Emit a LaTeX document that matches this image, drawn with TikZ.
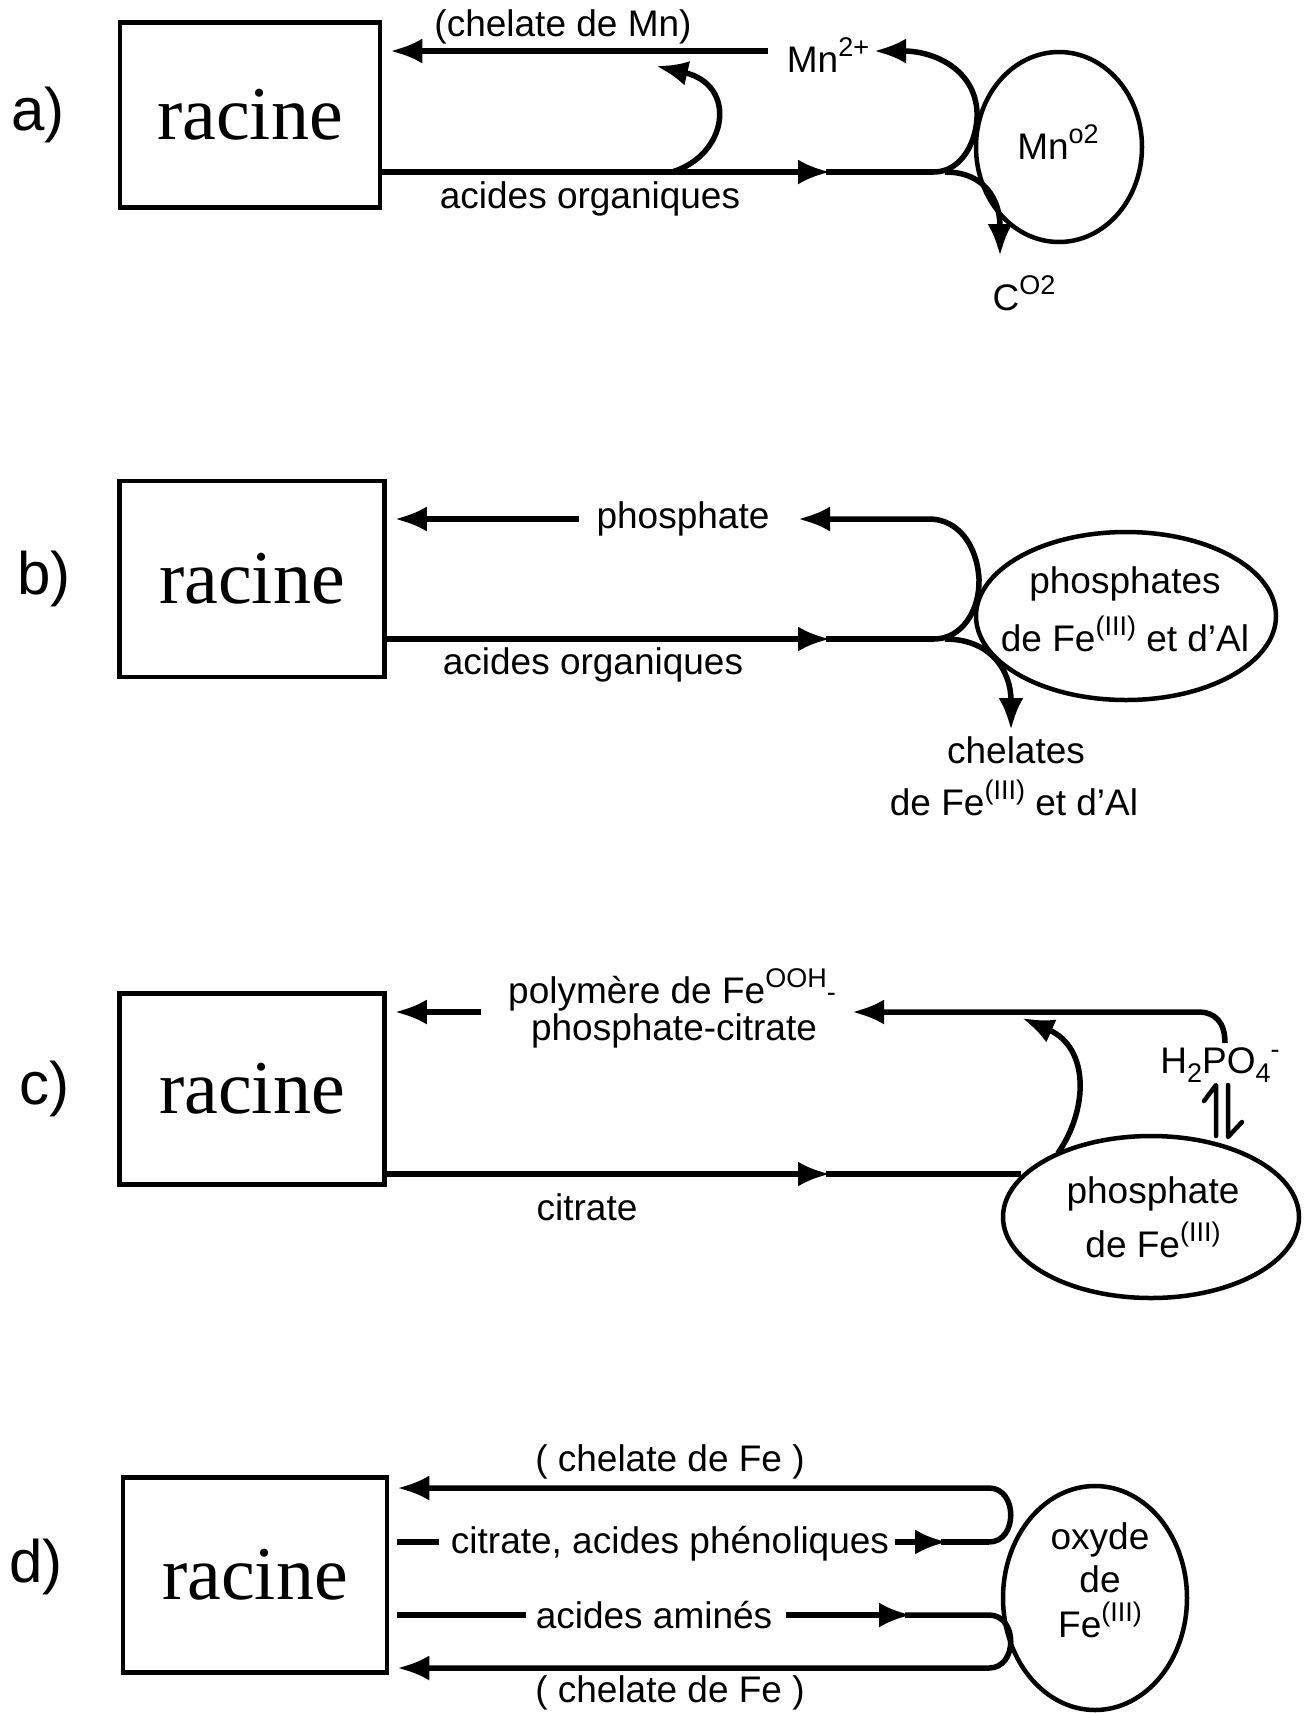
\documentclass[tikz,border=0pt]{standalone}
\usepackage{fontspec}
\setmainfont{Liberation Sans}
\newfontfamily\racinefont{Liberation Serif}
\usetikzlibrary{arrows.meta,shapes.geometric}
\newcommand\sups[1]{\raisebox{0.42em}{\fontsize{27}{27}\selectfont #1}}
\newcommand\subs[1]{\raisebox{-0.22em}{\fontsize{27}{27}\selectfont #1}}
\begin{document}
\begin{tikzpicture}[x=1pt,y=-1pt,
  every node/.style={inner sep=0pt, font=\fontsize{37}{44}\selectfont},
  panel/.style={font=\fontsize{60}{60}\selectfont},
  rootbox/.style={draw, line width=4.5pt, font=\racinefont\fontsize{76}{76}\selectfont},
  blob/.style={draw, ellipse, line width=4.5pt},
  conn/.style={line width=5.5pt},
  tip/.style={-{Latex[length=32pt,width=25pt]}}
]
\useasboundingbox (0,0) rectangle (1311,1713);

% ---------------- a) ----------------
\node[panel] (la) at (38,115) {a)};
\node[rootbox, minimum width=260pt, minimum height=185pt] (ra) at (250,115) {racine};
\node[blob, minimum width=166pt, minimum height=190pt] (mno2) at (1059,147) {};
\node (mnotxt) at (1058,142) {Mn\sups{o2}};
\node (mn2) at (828,55) {Mn\sups{2+}};
\node (chMn) at (563,27) {(chelate de Mn)};
\node (aoA) at (590,199) {acides organiques};
\node (co2) at (1024,293) {C\sups{O2}};
\coordinate (a1) at (768,51);
\coordinate (a2) at (934,172);
\coordinate (a3) at (874,51);
\coordinate (a4) at (672,172);
\coordinate (a5) at (656,66);
\coordinate (a6) at (945,172);
\coordinate (a7) at (1000,256);
\coordinate (am) at (830,172);
\draw[conn,tip] (a1) -- ([xshift=8pt]ra.east |- a1);
\draw[conn,tip] (ra.east |- a2) -- (am);
\draw[conn] ([xshift=-4pt]am) -- (a2);
\draw[conn,tip] (a2) .. controls (962,172) and (978,140) .. (977,112) .. controls (975,70) and (935,51) .. (a3);
\draw[conn,tip] (a4) .. controls (728,155) and (738,85) .. (a5);
\draw[conn,tip] (a6) .. controls (985,172) and (1000,200) .. (a7);

% ---------------- b) ----------------
\node[panel] (lb) at (44,579) {b)};
\node[rootbox, minimum width=265pt, minimum height=196pt] (rb) at (252,579) {racine};
\node[blob, minimum width=300pt, minimum height=168pt] (phfe) at (1126,616) {};
\node (phfe1) at (1125,584) {phosphates};
\node (phfe2) at (1125,634) {de Fe\sups{(III)} et d'Al};
\node (phos) at (683,519) {phosphate};
\node (aoB) at (593,665) {acides organiques};
\node (chel1) at (1016,750) {chelates};
\node (chel2) at (1014,798) {de Fe\sups{(III)} et d'Al};
\coordinate (b1) at (579,519);
\coordinate (b2) at (934,639);
\coordinate (b3) at (798,519);
\coordinate (bm) at (830,639);
\coordinate (b4) at (945,639);
\coordinate (b5) at (1011,730);
\draw[conn,tip] (b1) -- ([xshift=8pt]rb.east |- b1);
\draw[conn,tip] (rb.east |- b2) -- (bm);
\draw[conn] ([xshift=-4pt]bm) -- (b2);
\draw[conn,tip] (b2) .. controls (962,639) and (980,610) .. (979,579) .. controls (977,545) and (958,519) .. (929,519) -- (b3);
\draw[conn,tip] (b4) .. controls (990,639) and (1011,670) .. (b5);

% ---------------- c) ----------------
\node[panel] (lc) at (44,1089) {c)};
\node[rootbox, minimum width=265pt, minimum height=191pt] (rc) at (252,1089) {racine};
\node[blob, minimum width=296pt, minimum height=162pt] (phfe3) at (1151,1217) {};
\node (phc1) at (1153,1194) {phosphate};
\node (phc2) at (1153,1240) {de Fe\sups{(III)}};
\node (poly1) at (672,990) {polymère de Fe\sups{OOH}\raisebox{0.05em}{\fontsize{27}{27}\selectfont -}};
\node (poly2) at (674,1031) {phosphate-citrate};
\node (citC) at (587,1207) {citrate};
\node (h2po4) at (1220,1065) {H\subs{2}PO\subs{4}\sups{-}};
\coordinate (c1) at (481,1012);
\coordinate (c2) at (1021,1174);
\coordinate (cm) at (830,1174);
\coordinate (c3) at (1225,1043);
\coordinate (c4) at (852,1012);
\coordinate (c5) at (1058,1153);
\coordinate (c6) at (1022,1018);
\draw[conn,tip] (c1) -- ([xshift=8pt]rc.east |- c1);
\draw[conn,tip] (rc.east |- c2) -- (cm);
\draw[conn] ([xshift=-4pt]cm) -- (c2);
\draw[conn,tip] (c3) .. controls (1225,1022) and (1215,1012) .. (1198,1012) -- (c4);
\draw[conn,tip] (c5) .. controls (1088,1110) and (1090,1048) .. (c6);
% equilibrium harpoons
\draw[line width=4.5pt, line cap=round, line join=round] (1216,1136) -- (1216,1085) -- (1204,1101);
\draw[line width=4.5pt, line cap=round, line join=round] (1228,1085) -- (1228,1137) -- (1242,1122);

% ---------------- d) ----------------
\node[panel] (ld) at (36,1567) {d)};
\node[rootbox, minimum width=264pt, minimum height=195pt] (rd) at (255,1575) {racine};
\node[blob, minimum width=184pt, minimum height=224pt] (oxfe) at (1095,1598) {};
\node (ox1) at (1100,1540) {oxyde};
\node (ox2) at (1100,1579) {de};
\node (ox3) at (1100,1620) {Fe\sups{(III)}};
\node (chT) at (670,1462) {( chelate de Fe )};
\node (chB) at (670,1693) {( chelate de Fe )};
\node (citd) at (670,1544) {citrate, acides phénoliques};
\node (amin) at (654,1615) {acides aminés};
\coordinate (d1) at (989,1542);
\coordinate (d2) at (989,1488);
\coordinate (d3) at (989,1615);
\coordinate (d4) at (989,1668);
\coordinate (d1s) at (397,1542);
\coordinate (d1e) at (439,1542);
\coordinate (d3s) at (397,1615);
\coordinate (d3e) at (526,1615);
\draw[conn] (d1s) -- (d1e);
\draw[conn,tip] (895,1542) -- (947,1542);
\draw[conn] (941,1542) -- (d1);
\draw[conn,tip] (d1) .. controls (1018,1542) and (1018,1488) .. (d2) -- ([xshift=8pt]rd.east |- d2);
\draw[conn] (d3s) -- (d3e);
\draw[conn,tip] (786,1615) -- (911,1615);
\draw[conn,tip] (905,1615) -- (d3) .. controls (1018,1615) and (1018,1668) .. (d4) -- ([xshift=8pt]rd.east |- d4);
\end{tikzpicture}
\end{document}
